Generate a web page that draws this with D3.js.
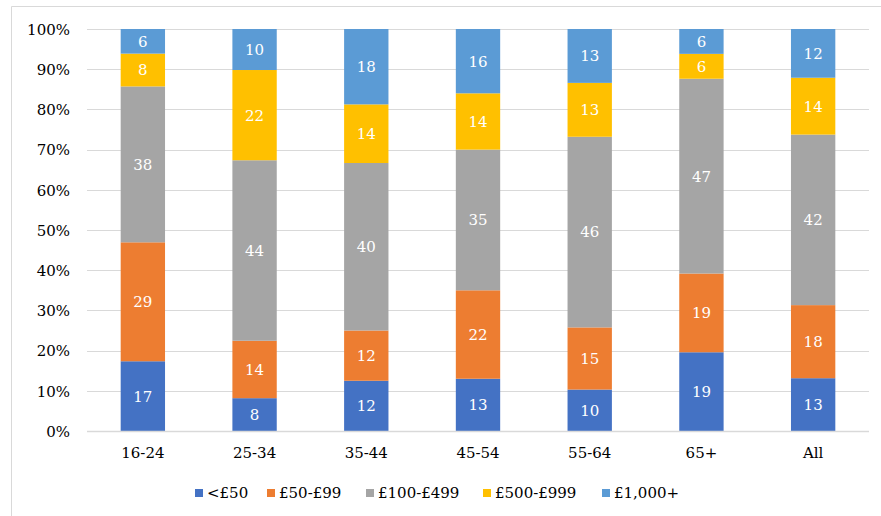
<!DOCTYPE html>
<html>
<head>
<meta charset="utf-8">
<script src="https://cdn.jsdelivr.net/npm/d3@7"></script>
<style>
  html, body { margin: 0; padding: 0; background: #fff; }
  svg { display: block; }
  text { font-family: "DejaVu Serif", "Liberation Serif", serif; }
</style>
</head>
<body>
<svg id="chart" width="881" height="516"></svg>
<script>
// Age bands and spend bands (values are % of respondents in each age band)
const categories = ["16-24", "25-34", "35-44", "45-54", "55-64", "65+", "All"];
const seriesNames = ["<£50", "£50-£99", "£100-£499", "£500-£999", "£1,000+"];
const under50   = [17, 8, 12, 13, 10, 19, 13];
const from50    = [29, 14, 12, 22, 15, 19, 18];
const from100   = [38, 44, 40, 35, 46, 47, 42];
const from500   = [8, 22, 14, 14, 13, 6, 14];
const over1000  = [6, 10, 18, 16, 13, 6, 12];
const yTickLabels = ["0%", "10%", "20%", "30%", "40%", "50%", "60%", "70%", "80%", "90%", "100%"];
const colors = ["#4472C4", "#ED7D31", "#A5A5A5", "#FFC000", "#5B9BD5"];

const seriesValues = [under50, from50, from100, from500, over1000];
const rows = categories.map((c, i) => {
  const r = { cat: c };
  seriesNames.forEach((s, j) => { r[s] = seriesValues[j][i]; });
  return r;
});

const svg = d3.select("#chart");
const W = 881, H = 516;
const plot = { left: 87, right: 869, top: 29, bottom: 431 };

// Outer chart border
svg.append("path")
  .attr("d", `M11.5,${H + 2} V6.5 H${W + 2}`)
  .attr("fill", "none").attr("stroke", "#d9d9d9").attr("stroke-width", 1);

const x = d3.scaleBand().domain(categories).range([plot.left, plot.right]).padding(0);
const y = d3.scaleLinear().domain([0, 1]).range([plot.bottom, plot.top]);
const barW = x.bandwidth() * 0.397;

// Gridlines
svg.append("g")
  .selectAll("line")
  .data(d3.range(1, 11).map(d => d / 10))
  .join("line")
  .attr("x1", plot.left).attr("x2", plot.right)
  .attr("y1", d => Math.round(y(d)) + 0.5).attr("y2", d => Math.round(y(d)) + 0.5)
  .attr("stroke", "#d9d9d9").attr("stroke-width", 1);

// Y axis labels
const yAxis = d3.axisLeft(y)
  .tickValues(d3.range(0, 11).map(d => d / 10))
  .tickFormat((d, i) => yTickLabels[i])
  .tickSize(0).tickPadding(0);
const yg = svg.append("g").attr("transform", `translate(70,0)`).call(yAxis);
yg.select(".domain").remove();
yg.selectAll("text")
  .attr("font-family", "'DejaVu Serif', serif")
  .attr("font-size", 15).attr("fill", "#000").attr("dy", "0.35em");

// Stacked, normalised bars
const stack = d3.stack().keys(seriesNames).offset(d3.stackOffsetExpand);
const layers = stack(rows);

const g = svg.append("g");
layers.forEach((layer, li) => {
  const lg = g.append("g").attr("fill", colors[li]);
  lg.selectAll("rect")
    .data(layer)
    .join("rect")
    .attr("x", d => x(d.data.cat) + (x.bandwidth() - barW) / 2)
    .attr("width", barW)
    .attr("y", d => y(d[1]))
    .attr("height", d => y(d[0]) - y(d[1]));
  g.append("g").selectAll("text")
    .data(layer)
    .join("text")
    .attr("x", d => x(d.data.cat) + x.bandwidth() / 2)
    .attr("y", d => (y(d[0]) + y(d[1])) / 2)
    .attr("dy", "0.36em")
    .attr("text-anchor", "middle")
    .attr("font-size", 15)
    .attr("fill", "#fff")
    .text(d => d.data[layer.key]);
});

// X axis
const xAxis = d3.axisBottom(x).tickSize(0).tickPadding(0);
const xg = svg.append("g").attr("transform", `translate(0,${plot.bottom})`).call(xAxis);
xg.select(".domain").attr("stroke", "#d9d9d9").attr("stroke-width", 1.5)
  .attr("d", `M${plot.left},0.5H${plot.right}`);
xg.selectAll("text")
  .attr("font-family", "'DejaVu Serif', serif")
  .attr("font-size", 15).attr("fill", "#000").attr("y", 22).attr("dy", "0.35em");

// Legend
const legendX = [195, 267, 366, 483, 602];
const lg = svg.append("g");
seriesNames.forEach((s, i) => {
  lg.append("rect").attr("x", legendX[i]).attr("y", 489).attr("width", 8).attr("height", 8).attr("fill", colors[i]);
  lg.append("text").attr("x", legendX[i] + 12).attr("y", 493).attr("dy", "0.35em")
    .attr("font-size", 15).attr("fill", "#000").text(s);
});
</script>
</body>
</html>
